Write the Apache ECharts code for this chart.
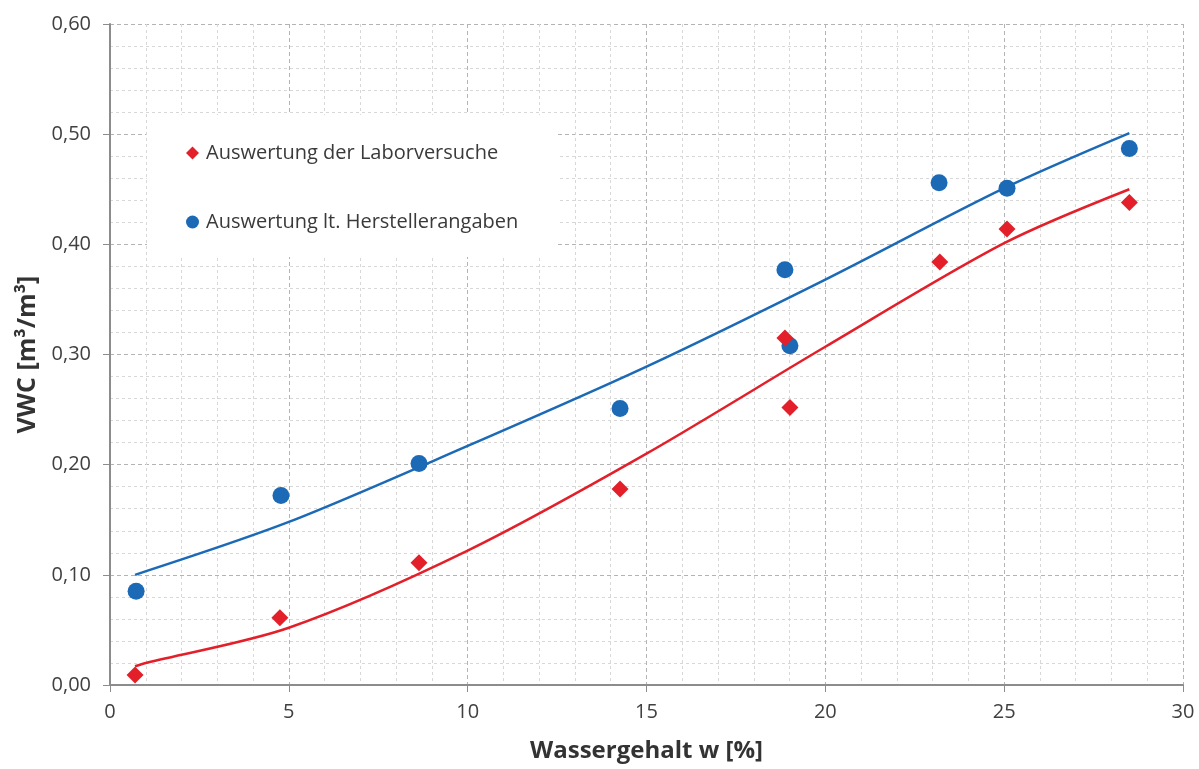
<!DOCTYPE html>
<html>
<head>
<meta charset="utf-8">
<script src="https://cdn.jsdelivr.net/npm/echarts@6/dist/echarts.min.js"></script>
<style>
  html, body { margin: 0; padding: 0; background: #ffffff; }
  #chart { width: 1199px; height: 769px; }
</style>
</head>
<body>
<div id="chart"></div>
<script>
// Wassergehalt w [%] der Proben
const laborW   = [0.70, 4.75, 8.64, 14.26, 18.87, 19.01, 23.20, 25.08, 28.50];
const laborVWC = [0.009, 0.061, 0.111, 0.178, 0.315, 0.252, 0.384, 0.414, 0.438];

const herstW   = [0.73, 4.78, 8.64, 14.26, 18.87, 19.01, 23.18, 25.08, 28.50];
const herstVWC = [0.085, 0.172, 0.201, 0.251, 0.377, 0.308, 0.456, 0.451, 0.487];

const trendLaborW   = [0.7, 1.0, 5, 10, 15, 20, 25, 28.5];
const trendLaborVWC = [0.017, 0.020, 0.052, 0.122, 0.210, 0.307, 0.401, 0.450];

const trendHerstW   = [0.7, 5, 10, 15, 20, 25, 28.5];
const trendHerstVWC = [0.100, 0.148, 0.217, 0.289, 0.368, 0.451, 0.501];

const labelLabor = 'Auswertung der Laborversuche';
const labelHerst = 'Auswertung lt. Herstellerangaben';

const RED = '#e3202a';
const BLUE = '#1c6ab6';
const FONT = '"Open Sans", Lato, sans-serif';

const pairs = (xs, ys) => xs.map((x, i) => [x, ys[i]]);

const chart = echarts.init(document.getElementById('chart'), null, { renderer: 'canvas' });

const gridLine = { show: true, lineStyle: { color: '#b4b4b4', type: [4, 3], width: 1 } };
const minorLine = { show: true, lineStyle: { color: '#d8d8d8', type: [3, 3], width: 1 } };
const axisColor = '#8c8c8c';

chart.setOption({
  backgroundColor: '#ffffff',
  animation: false,
  grid: { left: 110, right: 16, top: 24, bottom: 84, containLabel: false },
  legend: {
    data: [
      { name: labelLabor, icon: 'diamond' },
      { name: labelHerst, icon: 'circle' }
    ],
    orient: 'vertical',
    left: 147,
    top: 115,
    backgroundColor: '#ffffff',
    padding: [28, 39, 25, 39],
    itemGap: 49,
    itemWidth: 13,
    itemHeight: 13,
    textStyle: { fontFamily: FONT, fontSize: 20, color: '#3a3a3a', padding: [0, 0, 0, 2] }
  },
  xAxis: {
    type: 'value',
    min: 0, max: 30, interval: 5,
    name: 'Wassergehalt w [%]',
    nameLocation: 'middle',
    nameGap: 54,
    nameTextStyle: { fontFamily: FONT, fontSize: 24, fontWeight: 'bold', color: '#333333' },
    axisLine: { show: true, onZero: false, lineStyle: { color: axisColor, width: 2 } },
    axisTick: { show: true, length: 7, lineStyle: { color: axisColor } },
    axisLabel: { fontFamily: FONT, fontSize: 20, color: '#404040', margin: 17 },
    splitLine: gridLine,
    minorTick: { show: false, splitNumber: 5 },
    minorSplitLine: minorLine
  },
  yAxis: {
    type: 'value',
    min: 0, max: 0.6, interval: 0.1,
    name: 'VWC [m³/m³]',
    nameLocation: 'middle',
    nameGap: 70,
    nameRotate: 90,
    nameTextStyle: { fontFamily: FONT, fontSize: 25, fontWeight: 'bold', color: '#333333' },
    axisLine: { show: true, lineStyle: { color: axisColor, width: 2 } },
    axisTick: { show: true, length: 7, lineStyle: { color: axisColor } },
    axisLabel: {
      fontFamily: FONT, fontSize: 20, color: '#404040', margin: 19,
      formatter: v => v.toFixed(2).replace('.', ',')
    },
    splitLine: gridLine,
    minorTick: { show: false, splitNumber: 5 },
    minorSplitLine: minorLine
  },
  series: [
    {
      type: 'line',
      data: pairs(trendHerstW, trendHerstVWC),
      smooth: 0.3,
      showSymbol: false,
      silent: true,
      lineStyle: { color: BLUE, width: 2.5 },
      z: 2
    },
    {
      type: 'line',
      data: pairs(trendLaborW, trendLaborVWC),
      smooth: 0.3,
      showSymbol: false,
      silent: true,
      lineStyle: { color: RED, width: 2.5 },
      z: 2
    },
    {
      name: labelHerst,
      type: 'scatter',
      data: pairs(herstW, herstVWC),
      symbol: 'circle',
      symbolSize: 17,
      itemStyle: { color: BLUE, opacity: 1 },
      z: 3
    },
    {
      name: labelLabor,
      type: 'scatter',
      data: pairs(laborW, laborVWC),
      symbol: 'diamond',
      symbolSize: [17, 17],
      itemStyle: { color: RED, opacity: 1 },
      z: 4
    }
  ]
});
</script>
</body>
</html>
